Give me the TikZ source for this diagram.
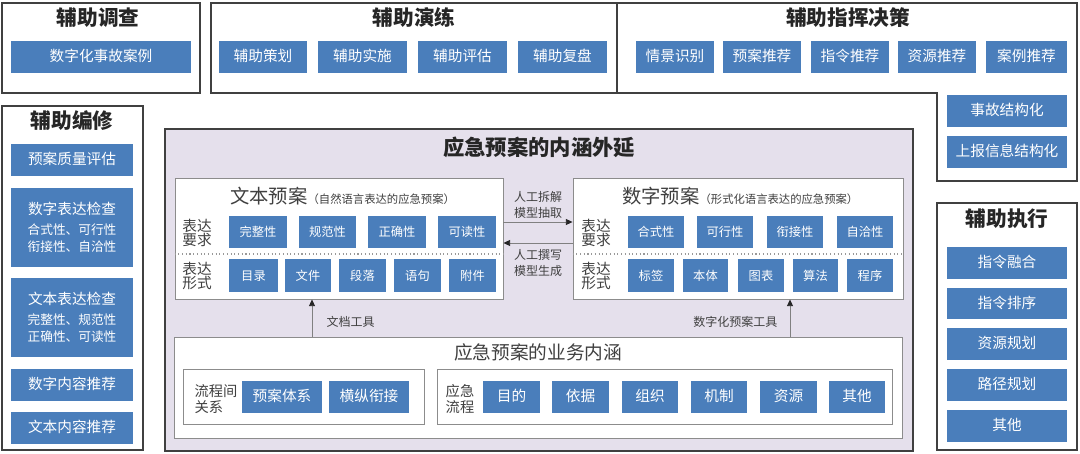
\documentclass[tikz,border=0pt]{standalone}
\usepackage{fontspec}
\setmainfont{Noto Sans CJK SC}
\usetikzlibrary{fit,arrows.meta}
\definecolor{btnblue}{HTML}{4A7EBB}
\definecolor{lavender}{HTML}{E5E0EC}
\definecolor{ink}{HTML}{404040}
\newcommand{\fsz}[2]{\fontsize{#1}{#2}\selectfont}

\begin{document}
\begin{tikzpicture}[
        x=0.75pt, y=-0.75pt,
        spans/.style n args={4}{at={({(#1+#3)/2},{(#2+#4)/2})},
            minimum width={(#3-#1)*0.75pt}, minimum height={(#4-#2)*0.75pt}},
        cjk/.style={text height=0.86em, text depth=0.14em},
        panel/.style={draw=ink, line width=1pt, inner sep=0pt},
        btn/.style={fill=btnblue, text=white, inner sep=0pt, cjk, font=\fsz{11}{13}},
        sbtn/.style={btn, font=\fsz{9.2}{11}},
        ptitle/.style={text=black!85, cjk, font=\fsz{15.5}{17}\bfseries},
        inbox/.style={draw=black!45, fill=white, line width=0.7pt, inner sep=0pt},
        lbl/.style={align=left, text=ink, font=\fsz{11}{10.2}},
        note/.style={align=center, text=ink, font=\fsz{9}{12}},
        arr/.style={draw=black!50, line width=0.6pt, -{Triangle[length=5pt, width=4.5pt, color=black!85]}}
    ]
    \useasboundingbox (0,0) rectangle (1080,453);

    % 辅助调查
    \node[panel, fit={(2,3) (200,93)}] (dc) {};
    \node[ptitle] (dct) at (98,21) {辅助调查};
    \node[btn, spans={11}{41}{191}{73}] (dc1) {数字化事故案例};

    % 辅助演练
    \node[panel, fit={(211,3) (617,93)}] (yl) {};
    \node[ptitle] (ylt) at (414,21) {辅助演练};
    \node[btn, spans={219}{41}{307}{73}] (yl1) {辅助策划};
    \node[btn, spans={318}{41}{407}{73}] (yl2) {辅助实施};
    \node[btn, spans={418}{41}{507}{73}] (yl3) {辅助评估};
    \node[btn, spans={518}{41}{607}{73}] (yl4) {辅助复盘};

    % 辅助指挥决策
    \draw[panel] (617,3) -- (1077,3) -- (1077,181) -- (937,181) -- (937,93) -- (617,93) -- cycle;
    \node[ptitle] (zht) at (848,21) {辅助指挥决策};
    \node[btn, spans={636}{41}{714}{73}] (zh1) {情景识别};
    \node[btn, spans={723}{41}{801}{73}] (zh2) {预案推荐};
    \node[btn, spans={811}{41}{889}{73}] (zh3) {指令推荐};
    \node[btn, spans={898}{41}{976}{73}] (zh4) {资源推荐};
    \node[btn, spans={986}{41}{1067}{73}] (zh5) {案例推荐};
    \node[btn, spans={947}{95}{1067}{127}] (zh6) {事故结构化};
    \node[btn, spans={947}{136}{1067}{168}] (zh7) {上报信息结构化};

    % 辅助编修
    \node[panel, fit={(2,106) (143,450)}] (bx) {};
    \node[ptitle] (bxt) at (72,124) {辅助编修};
    \node[btn, spans={11}{144}{133}{176}] (bx1) {预案质量评估};
    \node[btn, spans={11}{188}{133}{267}] (bx2) {};
    \node[align=center, text=white, font=\fsz{9.5}{12.75}] (bx2t) at (72,227)
        {{\fsz{11}{13}数字表达检查}\\[2.25pt]合式性、可行性\\衔接性、自洽性};
    \node[btn, spans={11}{278}{133}{357}] (bx3) {};
    \node[align=center, text=white, font=\fsz{9.5}{12.75}] (bx3t) at (72,317)
        {{\fsz{11}{13}文本表达检查}\\[2.25pt]完整性、规范性\\正确性、可读性};
    \node[btn, spans={11}{369}{133}{401}] (bx4) {数字内容推荐};
    \node[btn, spans={11}{412}{133}{444}] (bx5) {文本内容推荐};

    % 辅助执行
    \node[panel, fit={(937,203) (1077,450)}] (zx) {};
    \node[ptitle] (zxt) at (1007,222) {辅助执行};
    \node[btn, spans={947}{247}{1067}{279}] (zx1) {指令融合};
    \node[btn, spans={947}{288}{1067}{319}] (zx2) {指令排序};
    \node[btn, spans={947}{328}{1067}{360}] (zx3) {资源规划};
    \node[btn, spans={947}{369}{1067}{401}] (zx4) {路径规划};
    \node[btn, spans={947}{410}{1067}{442}] (zx5) {其他};

    % 应急预案的内涵外延
    \node[panel, fill=lavender, fit={(165,129) (913,451)}] (nh) {};
    \node[ptitle, font=\fsz{16}{18}\bfseries] (nht) at (539,151) {应急预案的内涵外延};

    % 文本预案
    \node[inbox, fit={(175,178) (503,299)}] (wb) {};
    \node[anchor=west, text=ink, inner sep=0pt, cjk] (wbt) at (230,199)
        {{\fsz{14.5}{16}文本预案}{\fsz{8.5}{10}（自然语言表达的应急预案）}};
    \coordinate (dl) at (0,254);
    \draw[black!40, dotted, line width=0.8pt] (wb.west |- dl) -- (wb.east |- dl);
    \node[lbl] (wbl1) at (197,233) {表达\\要求};
    \node[lbl] (wbl2) at (197,276) {表达\\形式};
    \node[sbtn, spans={229}{216}{287}{248}] (wy1) {完整性};
    \node[sbtn, spans={299}{216}{356}{248}] (wy2) {规范性};
    \node[sbtn, spans={368}{216}{426}{248}] (wy3) {正确性};
    \node[sbtn, spans={438}{216}{496}{248}] (wy4) {可读性};
    \node[sbtn, spans={229}{259}{278}{292}] (wx1) {目录};
    \node[sbtn, spans={285}{259}{331}{292}] (wx2) {文件};
    \node[sbtn, spans={339}{259}{386}{292}] (wx3) {段落};
    \node[sbtn, spans={394}{259}{441}{292}] (wx4) {语句};
    \node[sbtn, spans={449}{259}{496}{292}] (wx5) {附件};

    % 数字预案
    \node[inbox, fit={(573,178) (903,299)}] (sb) {};
    \node[anchor=west, text=ink, inner sep=0pt, cjk] (sbt) at (622,199)
        {{\fsz{14.5}{16}数字预案}{\fsz{8.5}{10}（形式化语言表达的应急预案）}};
    \draw[black!40, dotted, line width=0.8pt] (sb.west |- dl) -- (sb.east |- dl);
    \node[lbl] (sbl1) at (596,233) {表达\\要求};
    \node[lbl] (sbl2) at (596,276) {表达\\形式};
    \node[sbtn, spans={628}{216}{684}{248}] (sy1) {合式性};
    \node[sbtn, spans={697}{216}{753}{248}] (sy2) {可行性};
    \node[sbtn, spans={767}{216}{823}{248}] (sy3) {衔接性};
    \node[sbtn, spans={837}{216}{893}{248}] (sy4) {自洽性};
    \node[sbtn, spans={628}{259}{674}{292}] (sx1) {标签};
    \node[sbtn, spans={683}{259}{728}{292}] (sx2) {本体};
    \node[sbtn, spans={738}{259}{784}{292}] (sx3) {图表};
    \node[sbtn, spans={793}{259}{838}{292}] (sx4) {算法};
    \node[sbtn, spans={847}{259}{893}{292}] (sx5) {程序};

    % 文本 <-> 数字
    \coordinate (a1) at (538,222);
    \coordinate (a2) at (538,243);
    \draw[arr] (wb.east |- a1) -- (sb.west |- a1);
    \draw[arr] (sb.west |- a2) -- (wb.east |- a2);
    \node[note] (n1) at (538,205) {人工拆解\\模型抽取};
    \node[note] (n2) at (538,263) {人工撰写\\模型生成};

    % 应急预案的业务内涵
    \node[inbox, fit={(174,337) (902,438)}] (yw) {};
    \node[text=ink, cjk, font=\fsz{14}{16}] (ywt) at (538,355) {应急预案的业务内涵};
    \node[inbox, fit={(183,369) (424,424)}] (gx) {};
    \node[lbl, anchor=west, font=\fsz{10.7}{12.5}] (gxl) at (190,399) {流程间\\关系};
    \node[btn, spans={242}{381}{322}{413}] (gx1) {预案体系};
    \node[btn, spans={329}{381}{409}{413}] (gx2) {横纵衔接};
    \node[inbox, fit={(437,369) (892,424)}] (lc) {};
    \node[lbl, font=\fsz{10.7}{11.5}] (lcl) at (460,399) {应急\\流程};
    \node[btn, spans={483}{381}{540}{413}] (lc1) {目的};
    \node[btn, spans={552}{381}{609}{413}] (lc2) {依据};
    \node[btn, spans={622}{381}{678}{413}] (lc3) {组织};
    \node[btn, spans={691}{381}{747}{413}] (lc4) {机制};
    \node[btn, spans={760}{381}{817}{413}] (lc5) {资源};
    \node[btn, spans={829}{381}{885}{413}] (lc6) {其他};

    % 工具
    \coordinate (t1) at (312,320);
    \coordinate (t2) at (790,320);
    \draw[arr] (yw.north -| t1) -- (wb.south -| t1);
    \draw[arr] (yw.north -| t2) -- (sb.south -| t2);
    \node[note, anchor=west, cjk] (t1l) at (322,322) {文档工具};
    \node[note, anchor=east, cjk] (t2l) at (782,322) {数字化预案工具};
\end{tikzpicture}
\end{document}
